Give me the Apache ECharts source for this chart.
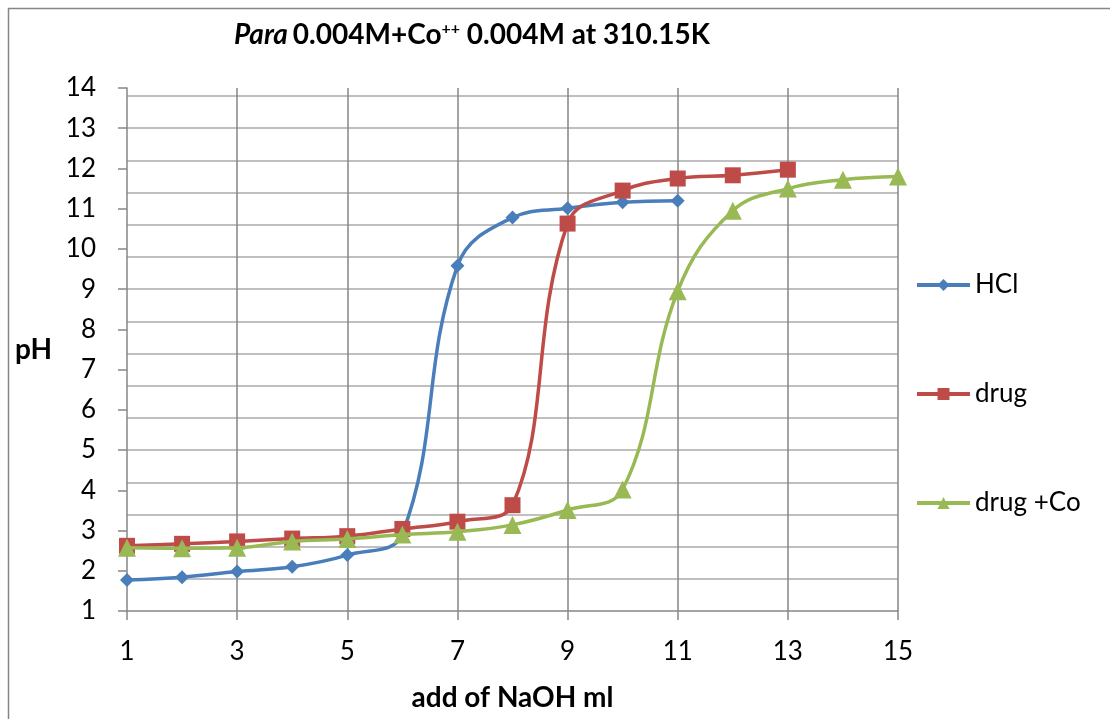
<!DOCTYPE html>
<html>
<head>
<meta charset="utf-8">
<script src="https://cdn.jsdelivr.net/npm/echarts@6/dist/echarts.min.js"></script>
<style>
html,body{margin:0;padding:0;background:#fff;}
#chart{width:1110px;height:719px;}
</style>
</head>
<body>
<div id="chart"></div>
<script>
// ---- data ----
const xValues = [1,2,3,4,5,6,7,8,9,10,11,12,13,14,15];
const hclValues = [1.77,1.84,1.98,2.10,2.39,2.92,9.58,10.78,11.01,11.16,11.20];
const drugValues = [2.62,2.67,2.73,2.80,2.86,3.04,3.22,3.63,10.63,11.45,11.75,11.83,11.97];
const drugCoValues = [2.57,2.56,2.57,2.73,2.79,2.90,2.97,3.14,3.51,4.02,8.95,10.95,11.50,11.72,11.80];
const seriesNames = ['HCl','drug','drug +Co'];
const xTickMin = 1, xTickMax = 15, xTickStep = 2;
const yTickMin = 1, yTickMax = 14, yTickStep = 1;

const font = 'Lato, "Open Sans", sans-serif';
const pairs = vals => vals.map((v,i) => [xValues[i], v]);

const chart = echarts.init(document.getElementById('chart'));
chart.setOption({
  backgroundColor: '#ffffff',
  animation: false,
  graphic: [{
    type: 'rect',
    shape: {x: 8.5, y: 8.5, width: 1200, height: 800},
    style: {fill: 'none', stroke: '#868686', lineWidth: 1.5},
    silent: true, z: -10
  }],
  title: {
    left: 467, top: 16, textAlign: 'center',
    text: '{i|Para} {b|0.004M+Co}{s|++}{b| 0.004M at 310.15K}',
    textStyle: {
      rich: {
        i: {fontFamily: font, fontSize: 28, fontWeight: 'bold', fontStyle: 'italic', color: '#000'},
        b: {fontFamily: font, fontSize: 28, fontWeight: 'bold', color: '#000'},
        s: {fontFamily: font, fontSize: 16, fontWeight: 'bold', color: '#000', padding: [0,0,12,0]}
      }
    }
  },
  legend: {
    orient: 'vertical', left: 910, top: 267,
    itemWidth: 53, itemHeight: 15, itemGap: 83,
    lineStyle: {width: 4},
    textStyle: {fontFamily: font, fontSize: 26, color: '#000'},
    data: seriesNames
  },
  grid: {left: 127, right: 212, top: 88, bottom: 108, containLabel: false},
  xAxis: {
    type: 'value', min: xTickMin, max: xTickMax, interval: xTickStep,
    name: 'add of NaOH ml', nameLocation: 'middle', nameGap: 73,
    nameTextStyle: {fontFamily: font, fontSize: 28, fontWeight: 'bold', color: '#000'},
    axisLine: {lineStyle: {color: '#868686', width: 1.5}},
    axisTick: {show: true, inside: false, length: 9, lineStyle: {color: '#868686', width: 1.5}},
    axisLabel: {fontFamily: font, fontSize: 26, color: '#000', margin: 28},
    splitLine: {show: true, showMinLine: false, lineStyle: {color: '#868686', width: 1.5}}
  },
  yAxis: [{
    type: 'value', min: yTickMin, max: yTickMax, interval: yTickStep,
    name: 'pH', nameLocation: 'middle', nameGap: 75, nameRotate: 0,
    nameTextStyle: {fontFamily: font, fontSize: 28, fontWeight: 'bold', color: '#000'},
    axisLine: {show: true, lineStyle: {color: '#868686', width: 1.5}},
    axisTick: {show: true, length: 9, lineStyle: {color: '#868686', width: 1.5}},
    axisLabel: {fontFamily: font, fontSize: 26, color: '#000', margin: 31},
    splitLine: {show: false}
  }, {
    type: 'value', min: 0, max: 16.25, interval: 1, position: 'right',
    axisLine: {show: false}, axisTick: {show: false}, axisLabel: {show: false},
    splitLine: {show: true, showMinLine: false, showMaxLine: false, lineStyle: {color: '#c0c0c0', width: 2}}
  }],
  series: [{
    name: seriesNames[0], type: 'line', data: pairs(hclValues), smooth: 0.4,
    symbol: 'diamond', symbolSize: 14,
    itemStyle: {color: '#4a7ebb'}, lineStyle: {color: '#4a7ebb', width: 3.5}, z: 3
  }, {
    name: seriesNames[1], type: 'line', data: pairs(drugValues), smooth: 0.4,
    symbol: 'rect', symbolSize: 16,
    itemStyle: {color: '#be4b48'}, lineStyle: {color: '#be4b48', width: 3.5}, z: 4
  }, {
    name: seriesNames[2], type: 'line', data: pairs(drugCoValues), smooth: 0.4,
    symbol: 'triangle', symbolSize: 18,
    itemStyle: {color: '#98b954'}, lineStyle: {color: '#98b954', width: 3.5}, z: 5
  }]
});
</script>
</body>
</html>
